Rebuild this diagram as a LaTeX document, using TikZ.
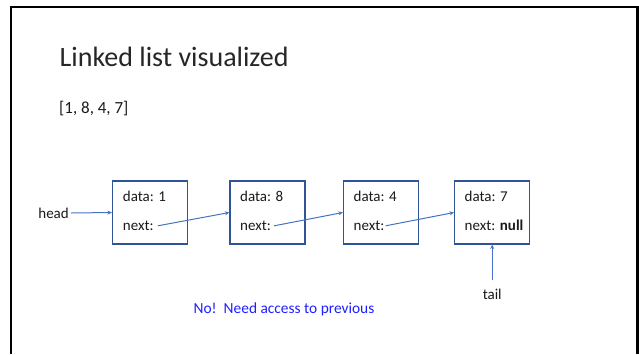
\documentclass[tikz,border=0pt]{standalone}
\usepackage{fontspec}
\setmainfont{Carlito}
\usetikzlibrary{arrows.meta}
\definecolor{boxline}{HTML}{2F5597}
\definecolor{linkline}{HTML}{4472C4}
\definecolor{inktext}{HTML}{1A1A1A}
\definecolor{warnblue}{HTML}{1F1FFF}
\tikzset{
  cell/.style={draw=boxline, line width=1.2pt, minimum width=75pt, minimum height=63pt, inner sep=0pt},
  celltext/.style={anchor=base west, inner sep=2pt, font=\fontsize{15}{18}\selectfont, text=inktext},
  link/.style={draw=linkline, line width=1pt, -{Stealth[length=4.5pt,width=4pt]}},
  label/.style={font=\fontsize{15}{18}\selectfont, text=inktext, inner sep=2pt}
}
\begin{document}
\begin{tikzpicture}[x=1pt,y=-1pt]
\useasboundingbox (0,0) rectangle (639,354);
% slide frame (open at the bottom)
\draw[line width=2.6pt, black] (11,354) -- (11,7) -- (637.5,7) -- (637.5,354);

% heading and the list itself
\node[anchor=base west, inner sep=0pt, font=\fontsize{28}{32}\selectfont, text=black!85] (title) at (59.5,66.7) {Linked list visualized};
\node[anchor=base west, inner sep=0pt, font=\fontsize{17}{20}\selectfont, text=inktext] (arr) at (59,113.5) {[1, 8, 4, 7]};

% list cells
\node[cell] (b1) at (150,212.5) {};
\node[cell] (b2) at (267.5,212.5) {};
\node[cell] (b3) at (381,212.5) {};
\node[cell] (b4) at (492.2,212.5) {};

\node[celltext] (d1) at (120.7,201.5) {data: 1};
\node[celltext] (n1) at (120.7,230.5) {next:};
\node[celltext] (d2) at (238,201.5) {data: 8};
\node[celltext] (n2) at (238,230.5) {next:};
\node[celltext] (d3) at (351.5,201.5) {data: 4};
\node[celltext] (n3) at (351.5,230.5) {next:};
\node[celltext] (d4) at (462.5,201.5) {data: 7};
\node[celltext] (n4) at (462.5,230.5) {next: \textbf{null}};

% pointers
\node[label, anchor=east] (head) at (71,213) {head};
\node[label] (tail) at (492.2,294) {tail};

\draw[link] (head.east) -- (b1.west);
\draw[link] ([xshift=2pt]n1.east) -- (b2.west);
\draw[link] ([xshift=1pt]n2.east) -- (b3.west);
\draw[link] ([xshift=-1pt]n3.east) -- (b4.west);
\draw[link, shorten <=7pt] (tail.north) -- (b4.south);

\node[font=\fontsize{15.4}{18}\selectfont, text=warnblue, inner sep=0pt] (note) at (284,309) {No!\ \ Need access to previous};
\end{tikzpicture}
\end{document}
